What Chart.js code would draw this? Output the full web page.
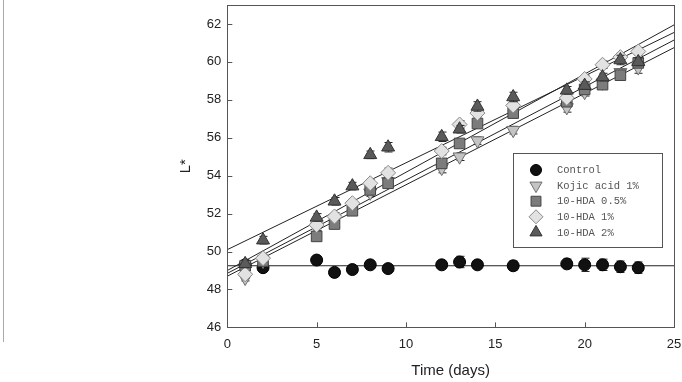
<!DOCTYPE html>
<html>
<head>
<meta charset="utf-8">
<script src="https://cdn.jsdelivr.net/npm/chart.js@4/dist/chart.umd.min.js"></script>
<style>
  html, body { margin: 0; padding: 0; background: #fff; }
  #wrap { position: relative; width: 682px; height: 382px; }
  #edge { position: absolute; left: 3px; top: 0; width: 1px; height: 342px; background: #aaa; }
</style>
</head>
<body>
<div id="wrap">
  <div id="edge"></div>
  <canvas id="c" width="682" height="382"></canvas>
</div>
<script>
// ---- data ----
const days = [1, 2, 5, 6, 7, 8, 9, 12, 13, 14, 16, 19, 20, 21, 22, 23];

const control   = [49.3, 49.15, 49.55, 48.9, 49.05, 49.3, 49.1, 49.3, 49.45, 49.3, 49.25, 49.35, 49.3, 49.3, 49.2, 49.15];
const kojic     = [48.6, 49.5, 51.3, 51.7, 52.4, 53.1, 53.7, 54.4, 55.0, 55.85, 56.4, 57.6, 58.4, 58.9, 59.45, 59.7];
const hda05     = [49.25, 49.5, 50.8, 51.45, 52.15, 53.25, 53.6, 54.65, 55.7, 56.75, 57.3, 57.9, 58.55, 58.8, 59.3, 59.95];
const hda1      = [48.8, 49.65, 51.4, 51.85, 52.55, 53.6, 54.15, 55.3, 56.7, 57.3, 57.7, 58.1, 59.1, 59.85, 60.25, 60.55];
const hda2      = [49.35, 50.6, 51.8, 52.65, 53.45, 55.1, 55.5, 56.05, 56.45, 57.65, 58.15, 58.5, 58.75, 59.2, 60.1, 60.0];

const controlErr = [0.15, 0.2, 0.15, 0.15, 0.15, 0.12, 0.1, 0.15, 0.3, 0.2, 0.25, 0.25, 0.35, 0.3, 0.3, 0.3];
const kojicErr   = [0.15, 0.2, 0.2, 0.2, 0.2, 0.2, 0.2, 0.25, 0.2, 0.2, 0.2, 0.25, 0.2, 0.2, 0.2, 0.3];
const hda05Err   = [0.15, 0.15, 0.15, 0.15, 0.15, 0.15, 0.15, 0.15, 0.2, 0.2, 0.15, 0.2, 0.15, 0.15, 0.15, 0.2];
const hda1Err    = [0.2, 0.2, 0.2, 0.2, 0.2, 0.2, 0.25, 0.2, 0.2, 0.2, 0.2, 0.25, 0.2, 0.2, 0.2, 0.2];
const hda2Err    = [0.2, 0.2, 0.2, 0.2, 0.2, 0.2, 0.25, 0.25, 0.2, 0.25, 0.25, 0.2, 0.2, 0.2, 0.25, 0.2];

// regression lines (endpoints)
const fitX       = [0, 25];
const fitControl = [49.25, 49.25];
const fitKojic   = [48.7, 60.75];
const fitHda05   = [48.85, 61.15];
const fitHda1    = [49.0, 61.95];
const fitHda2    = [50.1, 61.55];

const seriesNames = ['Control', 'Kojic acid 1%', '10-HDA 0.5%', '10-HDA 1%', '10-HDA 2%'];
const xTickValues = [0, 5, 10, 15, 20, 25];
const yTickValues = [46, 48, 50, 52, 54, 56, 58, 60, 62];

// ---- chart ----
Chart.defaults.font.family = "'Liberation Sans', Arial, sans-serif";
Chart.defaults.color = '#222';

const pts = (ys) => days.map((d, i) => ({ x: d, y: ys[i] }));
const line = (ys) => fitX.map((x, i) => ({ x: x, y: ys[i] }));

const markerStyles = [
  { pointStyle: 'circle',   radius: 6,   rotation: 0,   bg: '#111111', bd: '#000000' },
  { pointStyle: 'triangle', radius: 7.5, rotation: 180, bg: '#c4c4c4', bd: '#6e6e6e' },
  { pointStyle: 'rect',     radius: 7.5, rotation: 0,   bg: '#7c7c7c', bd: '#444444' },
  { pointStyle: 'rectRot',  radius: 7.5, rotation: 0,   bg: '#e2e2e2', bd: '#8a8a8a' },
  { pointStyle: 'triangle', radius: 7.5, rotation: 0,   bg: '#5a5a5a', bd: '#333333' }
];
const seriesVals = [control, kojic, hda05, hda1, hda2];
const seriesErrs = [controlErr, kojicErr, hda05Err, hda1Err, hda2Err];
const seriesFits = [fitControl, fitKojic, fitHda05, fitHda1, fitHda2];
const drawOrder  = [5, 4, 3, 2, 1];

const datasets = [];
seriesVals.forEach((vals, k) => {
  const m = markerStyles[k];
  datasets.push({
    label: seriesNames[k],
    data: pts(vals),
    errors: seriesErrs[k],
    pointStyle: m.pointStyle,
    pointRadius: m.radius,
    pointRotation: m.rotation,
    pointBackgroundColor: m.bg,
    pointBorderColor: m.bd,
    pointBorderWidth: 1,
    showLine: false,
    order: drawOrder[k]
  });
});
seriesFits.forEach((f, k) => {
  datasets.push({
    label: seriesNames[k] + ' fit',
    data: line(f),
    showLine: true,
    borderColor: '#222',
    borderWidth: 1,
    pointRadius: 0,
    fill: false,
    order: 10
  });
});

const decor = {
  id: 'decor',
  beforeDatasetDraw(chart, args) {
    const ds = chart.data.datasets[args.index];
    if (!ds.errors) return;
    const ctx = chart.ctx, xs = chart.scales.x, ys = chart.scales.y;
    ctx.save();
    ctx.strokeStyle = '#222';
    ctx.lineWidth = 1;
    ds.data.forEach((p, i) => {
      const e = ds.errors[i];
      const px = Math.round(xs.getPixelForValue(p.x)) + 0.5;
      const t = ys.getPixelForValue(p.y + e), b = ys.getPixelForValue(p.y - e);
      ctx.beginPath();
      ctx.moveTo(px, t); ctx.lineTo(px, b);
      ctx.moveTo(px - 4, t); ctx.lineTo(px + 4, t);
      ctx.moveTo(px - 4, b); ctx.lineTo(px + 4, b);
      ctx.stroke();
    });
    ctx.restore();
  },
  afterDatasetsDraw(chart) {
    const ctx = chart.ctx, a = chart.chartArea, xs = chart.scales.x, ys = chart.scales.y;
    ctx.save();
    // frame
    ctx.strokeStyle = '#555';
    ctx.lineWidth = 1;
    ctx.strokeRect(Math.round(a.left) + 0.5, Math.round(a.top) + 0.5,
                   Math.round(a.right - a.left), Math.round(a.bottom - a.top));
    // inward ticks
    ctx.beginPath();
    xTickValues.forEach(v => {
      const px = Math.round(xs.getPixelForValue(v)) + 0.5;
      ctx.moveTo(px, a.bottom); ctx.lineTo(px, a.bottom - 5);
    });
    yTickValues.forEach(v => {
      const py = Math.round(ys.getPixelForValue(v)) + 0.5;
      ctx.moveTo(a.left, py); ctx.lineTo(a.left + 5, py);
    });
    ctx.stroke();

    // legend box
    const L = { x: 513, y: 153, w: 149, h: 94 };
    ctx.fillStyle = '#fff';
    ctx.fillRect(L.x, L.y, L.w, L.h);
    ctx.strokeStyle = '#555';
    ctx.strokeRect(L.x + 0.5, L.y + 0.5, L.w, L.h);
    ctx.font = "10.5px 'Liberation Mono', 'DejaVu Sans Mono', monospace";
    ctx.textBaseline = 'middle';
    ctx.textAlign = 'left';
    seriesNames.forEach((name, k) => {
      const m = markerStyles[k];
      const yy = 170 + k * 15.6;
      ctx.fillStyle = m.bg;
      ctx.strokeStyle = m.bd;
      ctx.lineWidth = 1;
      Chart.helpers.drawPoint(ctx, { pointStyle: m.pointStyle, radius: m.radius - 0.5, rotation: m.rotation, borderWidth: 1 }, 536, yy);
      ctx.fillStyle = '#555';
      ctx.fillText(name, 557, yy + 0.5);
    });
    ctx.restore();
  }
};

const noPad = (s) => { s.paddingTop = 0; s.paddingBottom = 0; s.paddingLeft = 0; s.paddingRight = 0; };

new Chart(document.getElementById('c'), {
  type: 'scatter',
  data: { datasets },
  plugins: [decor],
  options: {
    responsive: false,
    animation: false,
    events: [],
    layout: { autoPadding: false, padding: { left: 0, top: 5, right: 8, bottom: 0 } },
    plugins: { legend: { display: false }, tooltip: { enabled: false } },
    scales: {
      x: {
        type: 'linear', min: 0, max: 25,
        afterBuildTicks: (s) => { s.ticks = xTickValues.map(v => ({ value: v })); },
        afterFit: (s) => { s.height = 54.6; noPad(s); },
        grid: { display: false, drawTicks: false },
        border: { display: false },
        ticks: { padding: 9, font: { size: 13 }, color: '#222' },
        title: { display: true, text: 'Time (days)', font: { size: 15 }, color: '#222', padding: { top: 0, bottom: 2 } }
      },
      y: {
        type: 'linear', min: 46, max: 63,
        afterBuildTicks: (s) => { s.ticks = yTickValues.map(v => ({ value: v })); },
        afterFit: (s) => { s.width = 227.3; noPad(s); },
        grid: { display: false, drawTicks: false },
        border: { display: false },
        ticks: { padding: 6, font: { size: 13 }, color: '#222' },
        title: { display: true, text: 'L*', font: { size: 15 }, color: '#222', padding: { top: 177, bottom: 0 } }
      }
    }
  }
});
</script>
</body>
</html>
